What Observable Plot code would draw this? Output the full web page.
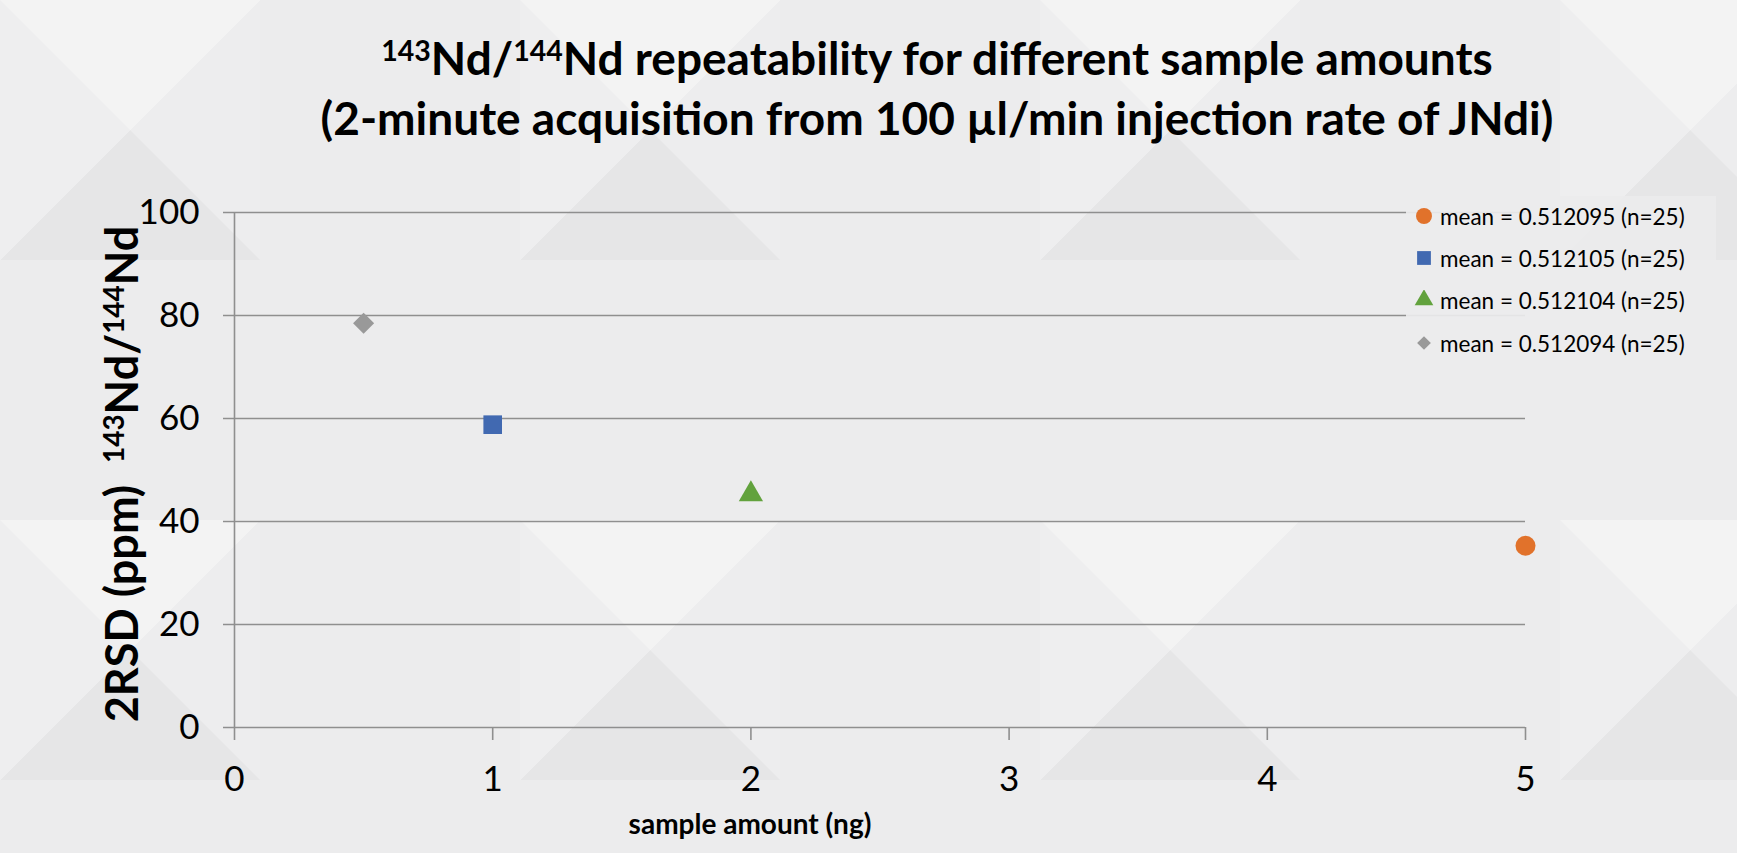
<!DOCTYPE html>
<html>
<head>
<meta charset="utf-8">
<script src="https://cdn.jsdelivr.net/npm/d3@7"></script>
<script src="https://cdn.jsdelivr.net/npm/@observablehq/plot@0.6"></script>
<style>
  html, body { margin: 0; padding: 0; }
  #wrap {
    position: relative; width: 1737px; height: 853px; overflow: hidden;
    background-color: #ececed;
    background-image:
      linear-gradient(135deg, rgba(255,255,255,.22) 25%, transparent 25%),
      linear-gradient(225deg, rgba(255,255,255,.18) 25%, transparent 25%),
      linear-gradient(45deg, rgba(0,0,0,.012) 25%, transparent 25%),
      linear-gradient(315deg, rgba(0,0,0,.01) 25%, transparent 25%);
    background-size: 520px 520px;
    background-position: 0 0, 260px 0, 0 260px, 260px 260px;
    font-family: Lato, "Open Sans", sans-serif;
    color: #000;
  }
  #title {
    position: absolute; left: 0; width: 1737px; top: 28px; padding-left: 137px; box-sizing: border-box;
    text-align: center; font-weight: bold; font-size: 46px; line-height: 60px;
  }
  #title sup { font-size: 0.62em; vertical-align: 0.5em; line-height: 0; }
  #chart { position: absolute; left: 0; top: 150px; }
  #ylabel {
    position: absolute; left: 121px; top: 474px; white-space: nowrap;
    transform: translate(-50%, -50%) rotate(-90deg);
    font-weight: bold; font-size: 45px;
  }
  #ylabel sup { font-size: 0.62em; vertical-align: 0.5em; line-height: 0; }
  #legend {
    position: absolute; left: 1406px; top: 196px; width: 310px; height: 166px;
    background: rgba(236,236,237,0.92);
    font-size: 22.5px;
  }
  .lrow { position: absolute; left: 8px; height: 30px; display: flex; align-items: center; white-space: nowrap; }
  .lrow svg { width: 20px; height: 20px; margin-right: 6px; }
</style>
</head>
<body>
<div id="wrap">
  <div id="title"><sup>143</sup>Nd/<sup>144</sup>Nd repeatability for different sample amounts<br>(2-minute acquisition from 100 µl/min injection rate of JNdi)</div>
  <div id="chart"></div>
  <div id="ylabel">2RSD (ppm)&nbsp;&nbsp;<sup>143</sup>Nd/<sup>144</sup>Nd</div>
  <div id="legend"></div>
</div>
<script>
// ---- data ----
const seriesLabels = [
  "mean = 0.512095 (n=25)",
  "mean = 0.512105 (n=25)",
  "mean = 0.512104 (n=25)",
  "mean = 0.512094 (n=25)"
];
const sampleAmount = [5, 1, 2, 0.5];        // ng
const rsdPpm = [35.3, 58.8, 45.3, 78.5];      // 2RSD ppm
const xTicks = [0, 1, 2, 3, 4, 5];
const yTicks = [0, 20, 40, 60, 80, 100];
const xLabel = "sample amount (ng)";

// ---- styles ----
const colors = ["#E1722B", "#4169B1", "#62A23D", "#999999"];
const symbols = ["circle", "square", "triangle", "diamond2"];
const sizes = [10, 10.5, 9, 9.5];
const legendSymbols = [d3.symbolCircle, d3.symbolSquare, d3.symbolTriangle, d3.symbolDiamond2];
const legendSizes = [200, 190, 150, 120];

const data = seriesLabels.map((label, i) => ({label, x: sampleAmount[i], y: rsdPpm[i]}));

const gridColor = "#8f8f8f";
const fontFam = 'Lato, "Open Sans", sans-serif';

const chart = Plot.plot({
  width: 1737,
  height: 703,
  marginTop: 62,
  marginBottom: 126,
  marginLeft: 234,
  marginRight: 212,
  style: {background: "transparent", fontFamily: fontFam, fontSize: "35px", color: "#000"},
  x: {domain: [0, 5], ticks: xTicks},
  y: {domain: [0, 100], ticks: yTicks},
  marks: [
    Plot.ruleY(yTicks, {stroke: gridColor, strokeWidth: 1.6, x1: 0, x2: 5, insetLeft: -11}),
    Plot.ruleX([0], {stroke: gridColor, strokeWidth: 1.6, y1: 0, y2: 100}),
    Plot.axisX({ticks: xTicks, tickFormat: d3.format("d"), tickSize: 13, tickPadding: 26, stroke: gridColor, strokeWidth: 1.6, label: null, fill: "#000"}),
    Plot.axisY({ticks: yTicks, tickFormat: d3.format("d"), tickSize: 0, tickPadding: 35, label: null, fill: "#000"}),
    Plot.text([xLabel], {frameAnchor: "bottom", dx: -130, dy: 106, fontWeight: "bold", fontSize: 28, fill: "#000"}),
    ...data.map((d, i) => Plot.dot([d], {x: "x", y: "y", symbol: symbols[i], fill: colors[i], stroke: "none", r: sizes[i]}))
  ]
});
document.getElementById("chart").appendChild(chart);

// ---- legend ----
const leg = document.getElementById("legend");
const rowY = [5, 47, 89, 132];
seriesLabels.forEach((label, i) => {
  const row = document.createElement("div");
  row.className = "lrow";
  row.style.top = rowY[i] + "px";
  const path = d3.symbol(legendSymbols[i], legendSizes[i])();
  row.innerHTML = `<svg viewBox="-10 -10 20 20"><path d="${path}" fill="${colors[i]}"></path></svg><span>${label}</span>`;
  leg.appendChild(row);
});
</script>
</body>
</html>
